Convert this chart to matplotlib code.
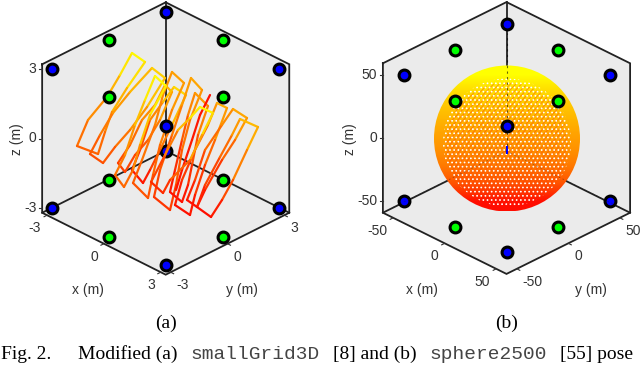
import matplotlib
matplotlib.use("Agg")
import matplotlib.pyplot as plt
import numpy as np
from matplotlib.collections import LineCollection
from matplotlib.patches import Circle, Polygon

# landmarks, in cube units (scaled by each panel's extent)
blue_x = [-1, 1, -1, -1, 1, -1, 1, 1]
blue_y = [-1, 1, 1, -1, 1, 1, -1, -1]
blue_z = [1, 1, 1, -1, -1, -1, 1, -1]
green_x = [-1, 0, 0, 1, -1, 0, 0, 1]
green_y = [0, 1, -1, 0, 0, 1, -1, 0]
green_z = [1, 1, 1, 1, -1, -1, -1, -1]

# smallGrid3D path: screen x, screen y, colour level
traj_x = [
    [118, 130, 142, 155, 165, 172, 160, 148, 135, 125, 118],
    [132, 140, 150, 163, 174, 186, 172, 160, 150, 143, 132],
    [133, 142, 155, 163, 172, 184, 172, 160, 153, 148, 133],
    [77, 88, 107, 120, 132, 145, 127, 112, 105, 98, 77],
    [90, 100, 113, 130, 152, 165, 147, 130, 115, 103, 90],
    [115, 125, 135, 145, 155, 166, 150, 140, 133, 124, 115],
    [154, 160, 172, 182, 191, 202, 190, 182, 176, 170, 154],
    [170, 175, 182, 188, 195, 208, 198, 192, 188, 182, 170],
    [210, 200, 192, 182, 176],
    [175, 182, 195, 208, 217, 227, 215, 205, 195, 190, 175],
    [187, 195, 205, 222, 233, 247, 235, 222, 205, 197, 187],
    [197, 205, 220, 232, 240, 258, 247, 233, 222, 211, 197],
    [151, 165, 178, 190, 200, 213, 202, 190, 170, 163, 151],
]
traj_y = [
    [163, 145, 120, 105, 85, 92, 120, 140, 155, 172, 163],
    [170, 150, 120, 102, 87, 95, 125, 150, 170, 183, 170],
    [183, 160, 125, 95, 72, 83, 110, 145, 175, 198, 183],
    [146, 120, 97, 75, 53, 62, 88, 112, 132, 154, 146],
    [154, 135, 113, 92, 68, 78, 107, 130, 147, 163, 154],
    [175, 155, 125, 100, 76, 86, 115, 145, 170, 187, 175],
    [197, 170, 135, 105, 78, 90, 120, 150, 185, 210, 197],
    [192, 170, 140, 115, 93, 106, 135, 165, 185, 202, 192],
    [95, 115, 140, 170, 190],
    [205, 180, 150, 125, 103, 108, 140, 165, 195, 215, 205],
    [200, 180, 150, 125, 109, 118, 140, 160, 190, 207, 200],
    [207, 185, 157, 135, 119, 127, 150, 180, 200, 217, 207],
    [182, 155, 130, 118, 107, 113, 135, 160, 180, 193, 182],
]
traj_c = [
    [.25, .35, .5, .6, .7, .7, .55, .4, .3, .25, .25],
    [.08, .2, .4, .65, .85, .85, .6, .35, .15, .08, .08],
    [.35, .4, .5, .55, .6, .65, .55, .45, .35, .3, .35],
    [.38, .5, .6, .8, 1., .95, .8, .6, .45, .38, .38],
    [.32, .4, .55, .65, .78, .85, .65, .5, .4, .3, .32],
    [.42, .5, .65, .85, 1., 1., .85, .65, .45, .38, .42],
    [.22, .3, .4, .55, .65, .65, .5, .4, .3, .2, .22],
    [.06, .12, .25, .45, .6, .6, .4, .25, .12, .06, .06],
    [.05, .08, .1, .1, .05],
    [.08, .15, .3, .5, .65, .7, .5, .3, .15, .05, .08],
    [.08, .2, .35, .5, .6, .7, .5, .3, .15, .05, .08],
    [.08, .2, .35, .5, .7, .75, .6, .4, .2, .03, .08],
    [.18, .35, .6, .85, 1., .95, .75, .5, .25, .15, .18],
]

# sphere2500 colour running from top to bottom of the ball
sphere_levels = [1.0, 0.85, 0.75, 0.66, 0.58, 0.48, 0.32, 0.05]

panels = [
    dict(cx=165.7, cy=138.5, a=18.95, b=9.5, c=23.2, L=3.26, Lz=3.2, m=3,
         ticks=[-3, 0, 3], name="(a)"),
    dict(cx=506.5, cy=138.0, a=1.03, b=0.51, c=1.26, L=60.0, Lz=59.3, m=50,
         ticks=[-50, 0, 50], name="(b)"),
]


def project(p, x, y, z):
    sx = p["cx"] + p["a"] * (np.asarray(x) + np.asarray(y))
    sy = p["cy"] + p["b"] * (np.asarray(x) - np.asarray(y)) - p["c"] * np.asarray(z)
    return sx, sy


def draw_box(ax, p):
    L, Lz = p["L"], p["Lz"]
    # floor and the two back walls
    faces = [
        ([-L, L, L, -L], [-L, -L, L, L], [-Lz, -Lz, -Lz, -Lz]),
        ([-L, -L, -L, -L], [-L, L, L, -L], [-Lz, -Lz, Lz, Lz]),
        ([-L, L, L, -L], [L, L, L, L], [-Lz, -Lz, Lz, Lz]),
    ]
    for fx, fy, fz in faces:
        sx, sy = project(p, fx, fy, fz)
        ax.add_patch(Polygon(np.column_stack([sx, sy]), fc="#ebebeb", ec="none", zorder=1))

    # outer hexagon
    hx = [-L, -L, L, L, L, -L, -L]
    hy = [-L, -L, -L, L, L, L, -L]
    hz = [Lz, -Lz, -Lz, -Lz, Lz, Lz, Lz]
    sx, sy = project(p, hx, hy, hz)
    ax.plot(sx, sy, color="#222222", lw=1.3, zorder=2, solid_joinstyle="miter")
    # back corner edges
    for ex, ey, ez in [(-L, L, Lz), (-L, -L, -Lz), (L, L, -Lz)]:
        sx, sy = project(p, [-L, ex], [L, ey], [-Lz, ez])
        ax.plot(sx, sy, color="#222222", lw=1.3, zorder=2)


def draw_ticks(ax, p):
    L, Lz = p["L"], p["Lz"]
    col = "#333333"
    for t in p["ticks"]:
        lab = str(t)
        sx, sy = project(p, -L, -L, t)
        ax.plot([sx - 3, sx], [sy, sy], color=col, lw=0.8, zorder=2)
        ax.text(sx - 5.5, sy, lab, ha="right", va="center", fontsize=10, color=col)
        sx, sy = project(p, t, -L, -Lz)
        ax.plot([sx - 3, sx], [sy + 1.5, sy], color=col, lw=0.8, zorder=2)
        ax.text(sx - 6, sy + 13, lab, ha="right", va="center", fontsize=10, color=col)
        sx, sy = project(p, L, t, -Lz)
        ax.plot([sx + 3, sx], [sy + 1.5, sy], color=col, lw=0.8, zorder=2)
        ax.text(sx + 6, sy + 13, lab, ha="left", va="center", fontsize=10, color=col)


def draw_landmarks(ax, p):
    m = p["m"]
    for xs, ys, zs, col in [(green_x, green_y, green_z, "#00ff00"), (blue_x, blue_y, blue_z, "#0000ff")]:
        xs, ys, zs = np.array(xs) * m, np.array(ys) * m, np.array(zs) * m
        sx, sy = project(p, xs, ys, zs)
        behind = xs - ys + zs < 0
        ax.plot(sx[~behind], sy[~behind], "o", ms=7.8, mfc=col, mec="black", mew=2.2, ls="none", zorder=6)
        ax.plot(sx[behind], sy[behind], "o", ms=7.8, mfc=col, mec="black", mew=2.2, ls="none", zorder=3)


def draw_trajectory(ax):
    cmap = plt.get_cmap("autumn")
    for xs, ys, cs in zip(traj_x, traj_y, traj_c):
        pts = np.column_stack([xs, ys])
        segs = np.stack([pts[:-1], pts[1:]], axis=1)
        vals = (np.array(cs[:-1]) + np.array(cs[1:])) / 2
        lc = LineCollection(segs, cmap=cmap, norm=plt.Normalize(0, 1), lw=1.6, zorder=4, capstyle="round")
        lc.set_array(vals)
        ax.add_collection(lc)


def draw_sphere(ax, p):
    cx, cy, r = 507, 138.5, 73
    ball = Circle((cx, cy), r, transform=ax.transData)
    img = ax.imshow(np.array(sphere_levels)[:, None], cmap="autumn", vmin=0, vmax=1,
                    extent=[cx - r, cx + r, cy + r, cy - r], aspect="auto", zorder=4,
                    interpolation="bilinear")
    img.set_clip_path(ball)
    # path overlaps: red streaks, then white gaps between the rings
    plt.rcParams["hatch.linewidth"] = 0.7
    ax.add_patch(Circle((cx, cy + 5), r - 12, fc="none", ec="#ff3c00", lw=0, hatch="//////", alpha=0.45, zorder=5))
    plt.rcParams["hatch.linewidth"] = 0.7
    ax.add_patch(Circle((cx, cy + 4), r - 9, fc="none", ec="white", lw=0, hatch="....", zorder=5))
    # back edges seen through the gaps
    sx, sy = project(p, [-60, -60], [60, 60], [-59, 35])
    ax.plot(sx, sy, color="black", lw=0.8, ls=(0, (2, 3)), alpha=0.6, zorder=5)
    sx, sy = project(p, [-60, -60], [60, -50], [-59, -59])
    ax.plot(sx, sy, color="#222222", lw=0.6, ls=(0, (2, 3)), alpha=0.4, zorder=5)
    sx, sy = project(p, [-60, 50], [60, 60], [-59, -59])
    ax.plot(sx, sy, color="#222222", lw=0.6, ls=(0, (2, 3)), alpha=0.4, zorder=5)
    # sliver of the far blue landmark
    sx, sy = project(p, -50, 50, -50)
    ax.plot([sx], [sy], marker="|", ms=6, mew=1.5, color="#0000ff", zorder=5)


fig = plt.figure(figsize=(6.4, 3.65), dpi=100)
ax = fig.add_axes([0, 0, 1, 1])
plt.rcParams["font.family"] = ["Liberation Sans", "DejaVu Sans"]

for p in panels:
    draw_box(ax, p)
    draw_ticks(ax, p)

draw_landmarks(ax, panels[0])
draw_trajectory(ax)
draw_sphere(ax, panels[1])
draw_landmarks(ax, panels[1])

ax.text(88, 290, "x (m)", ha="center", va="center", fontsize=10, color="#333333")
ax.text(242, 290, "y (m)", ha="center", va="center", fontsize=10, color="#333333")
ax.text(17, 139, "z (m)", ha="center", va="center", rotation=90, fontsize=10, color="#333333")
ax.text(422, 290, "x (m)", ha="center", va="center", fontsize=10, color="#333333")
ax.text(591, 290, "y (m)", ha="center", va="center", fontsize=10, color="#333333")
ax.text(350, 139, "z (m)", ha="center", va="center", rotation=90, fontsize=10, color="#333333")

ax.text(165.5, 323, "(a)", family="Liberation Serif", fontsize=14, ha="center", va="center")
ax.text(507, 323, "(b)", family="Liberation Serif", fontsize=14, ha="center", va="center")
for x0, txt, fam, col in [
    (1, "Fig. 2.", "Liberation Serif", "black"),
    (78, "Modified (a)", "Liberation Serif", "black"),
    (190, "smallGrid3D", "Liberation Mono", "#444444"),
    (333, "[8] and (b)", "Liberation Serif", "black"),
    (429, "sphere2500", "Liberation Mono", "#444444"),
    (560, "[55] pose", "Liberation Serif", "black"),
]:
    ax.text(x0, 359, txt, family=fam, fontsize=14, color=col, ha="left", va="baseline")

ax.set_xlim(0, 640)
ax.set_ylim(365, 0)
ax.axis("off")
fig.savefig("out.png", dpi=100)
